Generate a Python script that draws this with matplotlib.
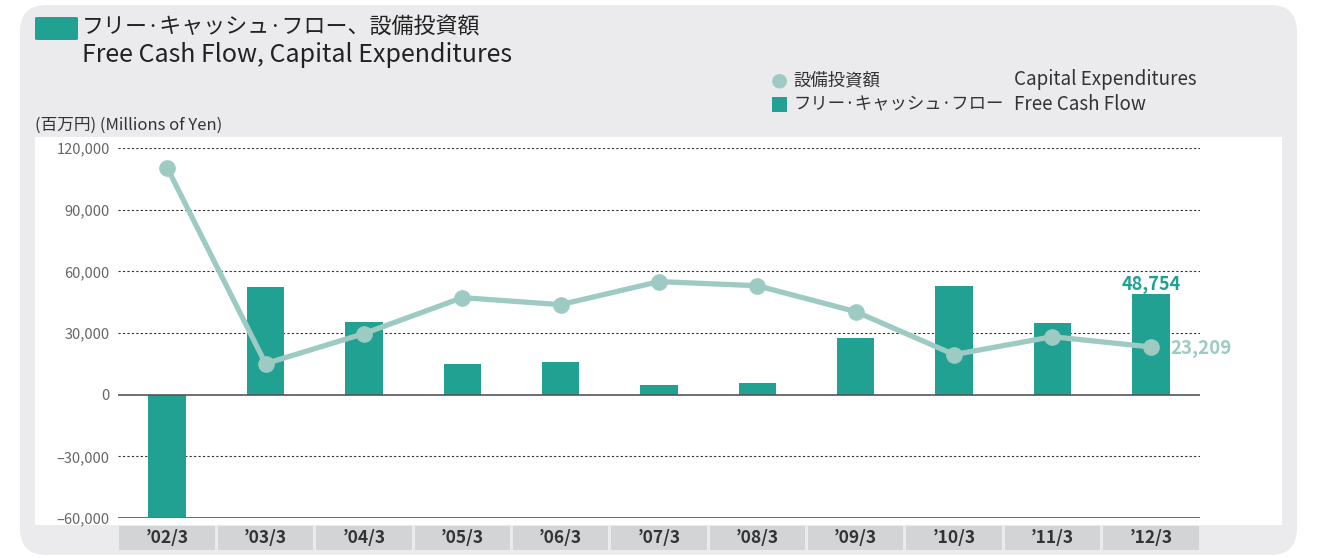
import numpy as np
import matplotlib.pyplot as plt
import matplotlib.transforms as mtransforms
from matplotlib.patches import FancyBboxPatch, Rectangle

plt.rcParams['font.family'] = ['Noto Sans CJK JP', 'DejaVu Sans']

# ── data ─────────────────────────────────────────────
years = ["’02/3", "’03/3", "’04/3", "’05/3", "’06/3", "’07/3",
         "’08/3", "’09/3", "’10/3", "’11/3", "’12/3"]
fcf = [-59500, 52500, 35500, 15100, 16000, 4900, 5800, 27700, 53000, 35000, 48754]
capex = [110400, 15100, 29700, 47200, 43800, 55000, 53000, 40400, 19500, 28200, 23209]
yticks = [-60000, -30000, 0, 30000, 60000, 90000, 120000]

TEAL = '#21a192'
LIGHT = '#9dcbc3'
PANEL = '#ebebed'
W, H = 1336, 558

fig = plt.figure(figsize=(W / 100, H / 100), dpi=100)
fig.patch.set_facecolor('white')

def fx(px):
    return px / W

def fy(py):
    return 1 - py / H

# gray rounded panel + white plot area
fig.patches.append(FancyBboxPatch((fx(20), fy(555)), fx(1277), 550 / H,
                                  boxstyle='round,pad=0,rounding_size=0.02',
                                  transform=fig.transFigure, fc=PANEL, ec='none',
                                  mutation_aspect=W / H, zorder=0))
fig.patches.append(Rectangle((fx(35), fy(525)), fx(1247), 388 / H,
                             transform=fig.transFigure, fc='white', ec='none', zorder=0))

# title
fig.patches.append(FancyBboxPatch((fx(35), fy(40)), fx(43), 23 / H,
                                  boxstyle='round,pad=0,rounding_size=0.002',
                                  transform=fig.transFigure, fc=TEAL, ec='none', zorder=1))
fig.text(fx(82), fy(28), 'フリー·キャッシュ·フロー、設備投資額', fontsize=15.8,
         color='#222222', va='center', ha='left')
fig.text(fx(82), fy(55), 'Free Cash Flow, Capital Expenditures', fontsize=18,
         color='#222222', va='center', ha='left')

# legend
fig.text(fx(779), fy(80), '●', fontsize=14, color=LIGHT, va='center', ha='center',
         family=['DejaVu Sans'])
fig.text(fx(793), fy(80), '設備投資額', fontsize=12.5, color='#333333', va='center')
fig.text(fx(1014), fy(80), 'Capital Expenditures', fontsize=13.5, color='#333333', va='center')
fig.patches.append(Rectangle((fx(772), fy(112)), fx(15), 15 / H,
                             transform=fig.transFigure, fc=TEAL, ec='none'))
fig.text(fx(793), fy(104), 'フリー·キャッシュ·フロー', fontsize=12.5, color='#333333', va='center')
fig.text(fx(1014), fy(104), 'Free Cash Flow', fontsize=13.5, color='#333333', va='center')

fig.text(fx(35), fy(125), '(百万円) (Millions of Yen)', fontsize=12, color='#333333', va='center')

# ── axes ─────────────────────────────────────────────
ax = fig.add_axes([fx(118), fy(518), fx(1082), 370 / H])
ax.set_zorder(3)
ax.set_facecolor('none')
x = np.arange(len(years))

ax.bar(x, fcf, width=0.38, color=TEAL, zorder=2)
ax.plot(x, capex, color=LIGHT, lw=3.8, marker='o', ms=11, zorder=3,
        solid_capstyle='round')

ax.set_xlim(-0.5, len(years) - 0.5)
ax.set_ylim(-60000, 120000)
ax.set_yticks(yticks)
ax.set_yticklabels([f'{v:,}'.replace('-', '–') for v in yticks], fontsize=10.5, color='#666666')
ax.tick_params(axis='y', length=0, pad=6)
ax.set_xticks([])
for s in ax.spines.values():
    s.set_visible(False)

for v in yticks:
    if v in (0, -60000):
        ax.axhline(v, color='#555555', lw=1.2, zorder=4)
    else:
        ax.axhline(v, color='#333333', lw=0.8, ls=(0, (2, 2)), zorder=1)

# category boxes below the axis
trans = mtransforms.blended_transform_factory(ax.transData, ax.transAxes)
box_h = 24 / 370
for i, lab in enumerate(years):
    ax.add_patch(Rectangle((i - 0.485, -8 / 370 - box_h), 0.97, box_h, transform=trans,
                           fc='#d3d4d6', ec='none', clip_on=False))
    ax.text(i, -8 / 370 - box_h / 2, lab, transform=trans, ha='center', va='center',
            fontsize=12.5, fontweight='bold', color='#333333')

# value annotations
ax.annotate(f'{fcf[-1]:,}', (x[-1], fcf[-1]), xytext=(0, 0), textcoords='offset points',
            ha='center', va='bottom', fontsize=13, fontweight='bold', color=TEAL, zorder=6)
ax.annotate(f'{capex[-1]:,}', (x[-1], capex[-1]), xytext=(14, -1), textcoords='offset points',
            ha='left', va='center', fontsize=13.5, fontweight='bold', color=LIGHT, zorder=6)

fig.savefig('out.png', dpi=100)
